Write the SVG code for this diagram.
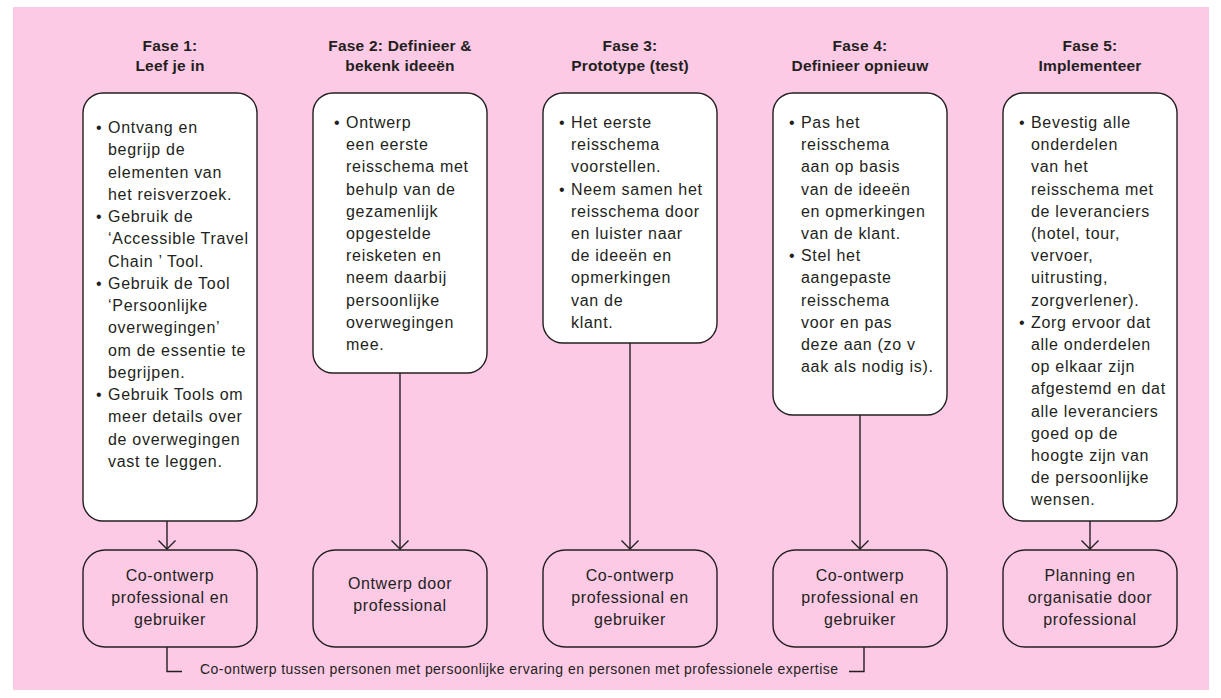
<svg xmlns="http://www.w3.org/2000/svg" width="1221" height="698" viewBox="0 0 1221 698">
<defs>
<style>
.bg{fill:#fdcae6}
.card{fill:#ffffff;stroke:#231f20;stroke-width:1.4}
.res{fill:#fdcae6;stroke:#231f20;stroke-width:1.4}
.hd{font-family:"Liberation Sans",Arial,sans-serif;font-weight:bold;font-size:15.5px;fill:#231f20;text-anchor:middle;letter-spacing:0.2px}
.bd{font-family:"Liberation Sans",Arial,sans-serif;font-size:16px;fill:#231f20;letter-spacing:0.7px}
.bt{font-family:"Liberation Sans",Arial,sans-serif;font-size:16px;fill:#231f20;text-anchor:middle;letter-spacing:0.6px}
.ft{font-family:"Liberation Sans",Arial,sans-serif;font-size:14px;fill:#231f20}
.ln{fill:none;stroke:#231f20;stroke-width:1.4}
</style>
<marker id="arr" viewBox="0 0 12 20" markerWidth="12" markerHeight="20" refX="10" refY="10" orient="auto" markerUnits="userSpaceOnUse">
<path d="M1.5,1.5 L10,10 L1.5,18.5" fill="none" stroke="#231f20" stroke-width="1.4"/>
</marker>
</defs>
<rect class="bg" x="13" y="7" width="1196" height="683"/>

<g id="phase1">
<text class="hd" x="170" y="51">Fase 1:</text>
<text class="hd" x="170" y="71">Leef je in</text>
<rect class="card" x="83" y="93" width="174" height="428" rx="20"/>
<text class="bd">
<tspan x="96" y="133">•</tspan>
<tspan x="108" y="133">Ontvang en</tspan>
<tspan x="108" y="155.25">begrijp de</tspan>
<tspan x="108" y="177.5">elementen van</tspan>
<tspan x="108" y="199.75">het reisverzoek.</tspan>
<tspan x="96" y="222">•</tspan>
<tspan x="108" y="222">Gebruik de</tspan>
<tspan x="108" y="244.25">‘Accessible Travel</tspan>
<tspan x="108" y="266.5">Chain ’ Tool.</tspan>
<tspan x="96" y="288.75">•</tspan>
<tspan x="108" y="288.75">Gebruik de Tool</tspan>
<tspan x="108" y="311">‘Persoonlijke</tspan>
<tspan x="108" y="333.25">overwegingen’</tspan>
<tspan x="108" y="355.5">om de essentie te</tspan>
<tspan x="108" y="377.75">begrijpen.</tspan>
<tspan x="96" y="400">•</tspan>
<tspan x="108" y="400">Gebruik Tools om</tspan>
<tspan x="108" y="422.25">meer details over</tspan>
<tspan x="108" y="444.5">de overwegingen</tspan>
<tspan x="108" y="466.75">vast te leggen.</tspan>
</text>
</g>

<g id="phase2">
<text class="hd" x="400" y="51">Fase 2: Definieer &amp;</text>
<text class="hd" x="400" y="71">bekenk ideeën</text>
<rect class="card" x="313" y="93" width="174" height="280" rx="20"/>
<text class="bd">
<tspan x="334" y="128">•</tspan>
<tspan x="346" y="128">Ontwerp</tspan>
<tspan x="346" y="150.2">een eerste</tspan>
<tspan x="346" y="172.4">reisschema met</tspan>
<tspan x="346" y="194.6">behulp van de</tspan>
<tspan x="346" y="216.8">gezamenlijk</tspan>
<tspan x="346" y="239">opgestelde</tspan>
<tspan x="346" y="261.2">reisketen en</tspan>
<tspan x="346" y="283.4">neem daarbij</tspan>
<tspan x="346" y="305.6">persoonlijke</tspan>
<tspan x="346" y="327.8">overwegingen</tspan>
<tspan x="346" y="350">mee.</tspan>
</text>
</g>

<g id="phase3">
<text class="hd" x="630" y="51">Fase 3:</text>
<text class="hd" x="630" y="71">Prototype (test)</text>
<rect class="card" x="543" y="93" width="174" height="250" rx="20"/>
<text class="bd">
<tspan x="559" y="128">•</tspan>
<tspan x="571" y="128">Het eerste</tspan>
<tspan x="571" y="150.2">reisschema</tspan>
<tspan x="571" y="172.4">voorstellen.</tspan>
<tspan x="559" y="194.6">•</tspan>
<tspan x="571" y="194.6">Neem samen het</tspan>
<tspan x="571" y="216.8">reisschema door</tspan>
<tspan x="571" y="239">en luister naar</tspan>
<tspan x="571" y="261.2">de ideeën en</tspan>
<tspan x="571" y="283.4">opmerkingen</tspan>
<tspan x="571" y="305.6">van de</tspan>
<tspan x="571" y="327.8">klant.</tspan>
</text>
</g>

<g id="phase4">
<text class="hd" x="860" y="51">Fase 4:</text>
<text class="hd" x="860" y="71">Definieer opnieuw</text>
<rect class="card" x="773" y="93" width="174" height="322" rx="20"/>
<text class="bd">
<tspan x="789" y="128">•</tspan>
<tspan x="801" y="128">Pas het</tspan>
<tspan x="801" y="150.2">reisschema</tspan>
<tspan x="801" y="172.4">aan op basis</tspan>
<tspan x="801" y="194.6">van de ideeën</tspan>
<tspan x="801" y="216.8">en opmerkingen</tspan>
<tspan x="801" y="239">van de klant.</tspan>
<tspan x="789" y="261.2">•</tspan>
<tspan x="801" y="261.2">Stel het</tspan>
<tspan x="801" y="283.4">aangepaste</tspan>
<tspan x="801" y="305.6">reisschema</tspan>
<tspan x="801" y="327.8">voor en pas</tspan>
<tspan x="801" y="350">deze aan (zo v</tspan>
<tspan x="801" y="372.2">aak als nodig is).</tspan>
</text>
</g>

<g id="phase5">
<text class="hd" x="1090" y="51">Fase 5:</text>
<text class="hd" x="1090" y="71">Implementeer</text>
<rect class="card" x="1003" y="93" width="174" height="428" rx="20"/>
<text class="bd">
<tspan x="1019" y="128">•</tspan>
<tspan x="1031" y="128">Bevestig alle</tspan>
<tspan x="1031" y="150.2">onderdelen</tspan>
<tspan x="1031" y="172.4">van het</tspan>
<tspan x="1031" y="194.6">reisschema met</tspan>
<tspan x="1031" y="216.8">de leveranciers</tspan>
<tspan x="1031" y="239">(hotel, tour,</tspan>
<tspan x="1031" y="261.2">vervoer,</tspan>
<tspan x="1031" y="283.4">uitrusting,</tspan>
<tspan x="1031" y="305.6">zorgverlener).</tspan>
<tspan x="1019" y="327.8">•</tspan>
<tspan x="1031" y="327.8">Zorg ervoor dat</tspan>
<tspan x="1031" y="350">alle onderdelen</tspan>
<tspan x="1031" y="372.2">op elkaar zijn</tspan>
<tspan x="1031" y="394.4">afgestemd en dat</tspan>
<tspan x="1031" y="416.6">alle leveranciers</tspan>
<tspan x="1031" y="438.8">goed op de</tspan>
<tspan x="1031" y="461">hoogte zijn van</tspan>
<tspan x="1031" y="483.2">de persoonlijke</tspan>
<tspan x="1031" y="505.4">wensen.</tspan>
</text>
</g>

<g id="result1">
<rect class="res" x="83" y="550" width="174" height="97" rx="22"/>
<text class="bt"><tspan x="170" y="581">Co-ontwerp</tspan><tspan x="170" y="603">professional en</tspan><tspan x="170" y="625">gebruiker</tspan></text>
</g>
<g id="result2">
<rect class="res" x="313" y="550" width="174" height="97" rx="22"/>
<text class="bt"><tspan x="400" y="589">Ontwerp door</tspan><tspan x="400" y="611">professional</tspan></text>
</g>
<g id="result3">
<rect class="res" x="543" y="550" width="174" height="97" rx="22"/>
<text class="bt"><tspan x="630" y="581">Co-ontwerp</tspan><tspan x="630" y="603">professional en</tspan><tspan x="630" y="625">gebruiker</tspan></text>
</g>
<g id="result4">
<rect class="res" x="773" y="550" width="174" height="97" rx="22"/>
<text class="bt"><tspan x="860" y="581">Co-ontwerp</tspan><tspan x="860" y="603">professional en</tspan><tspan x="860" y="625">gebruiker</tspan></text>
</g>
<g id="result5">
<rect class="res" x="1003" y="550" width="174" height="97" rx="22"/>
<text class="bt"><tspan x="1090" y="581">Planning en</tspan><tspan x="1090" y="603">organisatie door</tspan><tspan x="1090" y="625">professional</tspan></text>
</g>

<g id="connectors">
<line class="ln" x1="167" y1="521" x2="167" y2="549" marker-end="url(#arr)"/>
<line class="ln" x1="400" y1="373" x2="400" y2="549" marker-end="url(#arr)"/>
<line class="ln" x1="630" y1="343" x2="630" y2="549" marker-end="url(#arr)"/>
<line class="ln" x1="860" y1="415" x2="860" y2="549" marker-end="url(#arr)"/>
<line class="ln" x1="1090" y1="521" x2="1090" y2="549" marker-end="url(#arr)"/>
<polyline class="ln" points="167,647 167,671.5 182,671.5"/>
<polyline class="ln" points="849,671.5 864,671.5 864,647"/>
</g>

<g id="footnote">
<text class="ft" x="200" y="674" textLength="638" lengthAdjust="spacing">Co-ontwerp tussen personen met persoonlijke ervaring en personen met professionele expertise</text>
</g>
</svg>
